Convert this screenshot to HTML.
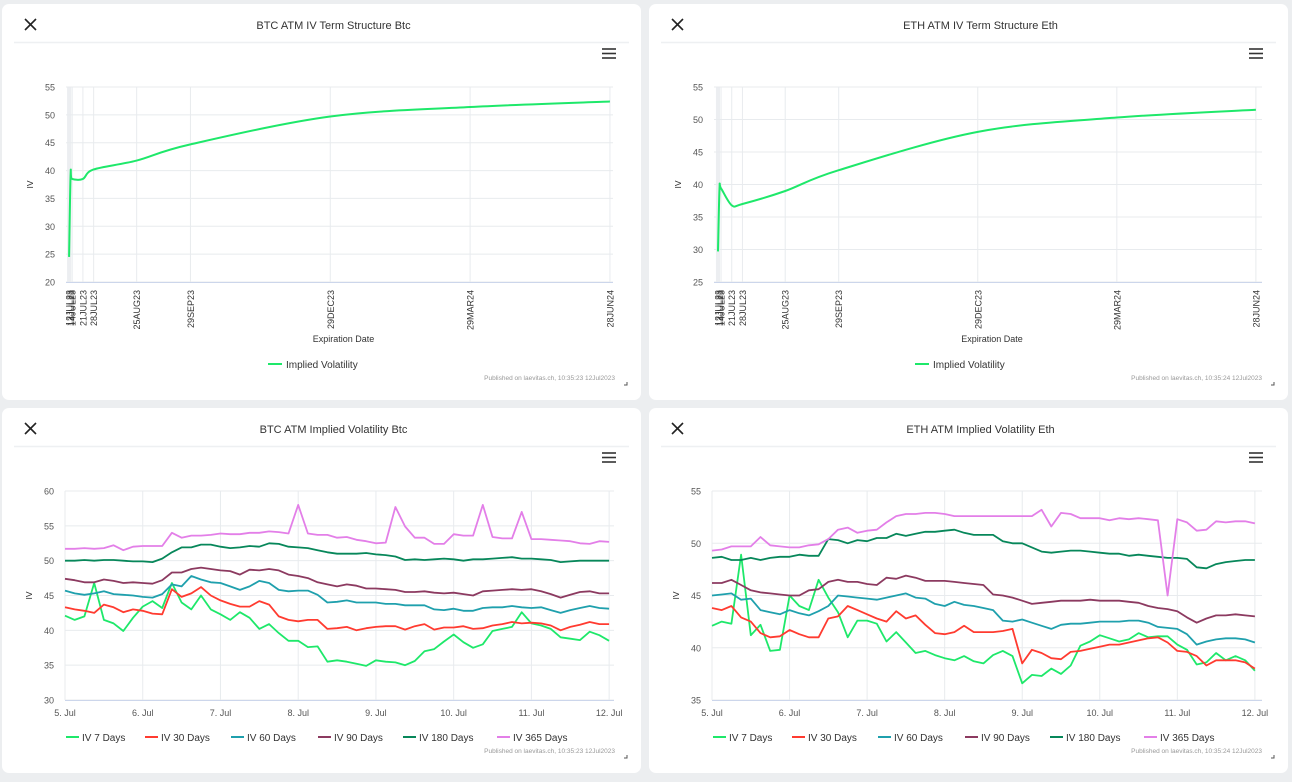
<!DOCTYPE html>
<html><head><meta charset="utf-8">
<style>
html,body{margin:0;padding:0;background:#eceef0;}
body{width:1292px;height:777px;overflow:hidden;font-family:"Liberation Sans",sans-serif;}
svg text{font-family:"Liberation Sans",sans-serif;}
</style></head>
<body>
<svg id="root" width="1292" height="777" viewBox="0 0 1292 777" xmlns="http://www.w3.org/2000/svg"></svg>
<script>
// ---- Term structure data (days from 12JUL23) ----
const termTickLabels = ["12JUL23","13JUL23","14JUL23","21JUL23","28JUL23","25AUG23","29SEP23","29DEC23","29MAR24","28JUN24"];
const termDays = [0,1,2,9,16,44,79,170,261,352];
const btcTermIV = [24.5,39.3,38.5,38.5,40.2,41.8,44.7,49.7,51.4,52.4];
const ethTermIV = [29.7,39.3,39.4,36.8,37.0,39.0,42.2,48.1,50.3,51.5];

// ---- Time series (every 3 hours from 5 Jul 00:00) ----
const dayLabels = ["5. Jul","6. Jul","7. Jul","8. Jul","9. Jul","10. Jul","11. Jul","12. Jul"];
const seriesNames = ["IV 7 Days","IV 30 Days","IV 60 Days","IV 90 Days","IV 180 Days","IV 365 Days"];
const btc7 = [42.1,41.5,42.0,46.8,41.5,41.0,39.9,41.8, 43.4,44.2,43.2,46.8,44.0,43.0,45.0,43.0, 42.3,41.5,42.6,41.8,40.2,40.9,39.6,38.5, 38.5,37.6,37.7,35.5,35.7,35.5,35.2,34.9, 35.7,35.5,35.4,35.0,35.6,37.0,37.3,38.4, 39.4,38.3,37.5,38.0,39.9,40.2,40.5,42.6, 41.0,40.7,40.2,39.0,38.8,38.6,39.8,39.3, 38.5];
const btc30 = [43.3,43.0,42.8,42.5,43.7,43.3,42.6,43.0, 42.8,42.4,42.3,45.9,44.8,45.3,46.2,45.0, 44.3,43.8,43.4,43.4,44.2,43.7,42.0,41.5, 41.3,41.5,41.5,40.2,40.3,40.5,40.0,40.3, 40.5,40.6,40.6,40.1,40.6,40.9,40.1,40.4, 40.4,40.6,40.2,40.3,40.7,40.9,41.2,41.0, 41.1,41.0,40.7,40.0,40.5,40.8,41.2,40.9, 40.9];
const btc60 = [45.7,45.3,45.1,45.3,45.6,45.2,45.1,45.0, 44.8,44.7,45.2,46.6,46.3,47.8,47.3,46.9, 46.8,46.3,45.8,46.3,47.1,46.8,45.8,45.6, 45.7,45.7,45.1,44.0,44.1,44.3,44.0,44.0, 44.0,43.8,43.8,43.6,43.6,43.6,43.0,42.9, 43.1,42.8,42.8,43.2,43.3,43.3,43.5,43.3, 43.2,43.3,42.9,42.5,42.9,43.2,43.5,43.2, 43.1];
const btc90 = [47.4,47.2,46.9,46.9,47.3,47.1,46.8,46.9, 46.8,46.7,47.2,48.3,48.3,48.8,49.0,48.8, 48.6,48.5,48.0,48.7,48.6,48.8,48.6,48.0, 47.8,47.5,46.9,46.6,46.3,46.6,46.4,46.0, 46.0,45.9,45.8,45.5,45.5,45.6,45.4,45.3, 45.4,45.2,45.0,45.6,45.7,45.8,45.9,45.8, 45.9,45.6,45.2,44.7,45.1,45.5,45.6,45.3, 45.3];
const btc180 = [50.0,50.0,50.1,50.0,50.1,50.1,50.0,49.9, 49.9,49.8,50.3,51.2,51.9,51.9,52.3,52.3, 52.0,51.8,51.9,52.1,52.0,52.5,52.4,52.0, 51.9,51.8,51.5,51.2,51.0,51.0,51.0,51.1, 50.9,50.8,50.6,50.1,50.2,50.1,50.2,50.3, 50.2,50.0,50.2,50.2,50.3,50.4,50.5,50.3, 50.3,50.2,50.1,49.8,49.9,50.0,50.0,50.0, 50.0];
const btc365 = [51.7,51.7,51.8,51.7,51.8,52.2,51.5,52.0, 52.1,52.1,52.1,54.0,53.3,53.6,53.6,53.7, 53.9,53.8,53.8,54.0,54.0,54.2,54.1,53.9, 58.0,53.9,53.7,53.7,53.3,53.4,53.0,52.8, 52.5,52.6,57.7,54.9,53.3,53.3,52.4,52.4, 53.8,53.6,53.6,58.0,53.4,53.2,53.2,57.0, 53.1,53.1,53.0,52.9,52.8,52.5,52.4,52.8, 52.7];
const eth7 = [42.1,42.5,42.3,48.9,41.2,42.2,39.7,39.8, 45.0,44.0,43.6,46.5,44.8,43.4,41.0,42.6, 42.6,42.3,40.6,41.5,40.5,39.5,39.7,39.3, 39.0,38.8,39.2,38.7,38.5,39.3,39.7,39.2, 36.6,37.4,37.3,38.0,37.5,38.3,40.2,40.6, 41.2,40.9,40.6,40.8,41.4,41.0,41.1,41.1, 40.3,39.8,38.4,38.6,39.5,38.8,39.2,38.8, 37.8];
const eth30 = [43.8,43.6,44.0,42.9,42.5,41.4,41.0,41.1, 41.7,41.3,41.0,41.0,42.8,43.0,44.0,43.6, 43.2,42.8,42.5,43.5,42.8,43.1,42.2,41.4, 41.3,41.5,42.1,41.5,41.5,41.5,41.6,41.8, 38.5,39.8,39.5,39.0,38.9,39.6,39.7,39.9, 40.1,40.3,40.3,40.5,40.7,40.9,41.0,40.5, 39.7,39.6,39.2,38.3,38.8,38.8,38.8,38.6, 38.0];
const eth60 = [45.0,45.1,45.2,44.6,44.7,43.6,43.4,43.2, 43.6,43.3,43.1,43.5,44.0,45.0,44.9,44.8, 44.7,44.6,44.8,45.0,45.2,44.8,44.7,44.2, 44.0,44.4,44.1,44.0,43.8,43.6,42.6,42.5, 42.7,42.4,42.1,41.8,42.2,42.3,42.3,42.4, 42.5,42.5,42.5,42.6,42.6,42.4,42.0,41.9, 41.8,41.3,40.3,40.6,40.8,40.9,40.9,40.8, 40.5];
const eth90 = [46.2,46.2,46.5,46.0,45.5,45.3,45.2,45.1, 45.0,45.0,45.5,45.6,46.3,46.5,46.3,46.3, 46.1,46.0,46.7,46.6,46.9,46.7,46.4,46.4, 46.4,46.3,46.2,46.1,46.0,45.1,45.0,44.8, 44.5,44.2,44.3,44.4,44.5,44.5,44.5,44.6, 44.5,44.5,44.5,44.4,44.3,44.0,43.8,43.7, 43.5,42.9,42.4,42.8,43.1,43.1,43.2,43.1, 43.0];
const eth180 = [48.6,48.7,48.4,48.4,48.6,48.4,48.6,48.7, 48.7,48.9,48.8,48.8,50.4,50.3,50.0,50.3, 50.2,50.5,50.5,50.9,50.7,50.9,51.1,51.1, 51.2,51.3,51.0,50.8,50.8,50.8,50.2,50.0, 50.0,49.6,49.2,49.1,49.2,49.3,49.3,49.2, 49.1,49.0,49.0,48.8,48.9,48.8,48.7,48.6, 48.6,48.5,47.7,47.6,48.0,48.2,48.3,48.4, 48.4];
const eth365 = [49.3,49.4,49.7,49.7,49.7,50.6,49.8,49.7, 49.6,49.6,49.8,49.9,50.4,51.3,51.5,51.0, 51.2,51.3,52.0,52.6,52.8,52.8,52.9,52.9, 52.8,52.6,52.6,52.6,52.6,52.6,52.6,52.6, 52.6,52.6,53.2,51.6,52.9,52.8,52.4,52.4, 52.4,52.2,52.4,52.3,52.4,52.3,52.2,45.0, 52.3,52.0,51.2,51.3,52.1,52.0,52.1,52.1, 51.9];

const colors = ["#1ee86a","#ff3b30","#1fa0ad","#8c3a60","#07875a","#e37fe8"];
const NS = "http://www.w3.org/2000/svg";
const root = document.getElementById('root');
function el(tag, attrs, parent, txt){
  const e = document.createElementNS(NS, tag);
  for (const k in attrs) e.setAttribute(k, attrs[k]);
  if (txt !== undefined) e.textContent = txt;
  (parent||root).appendChild(e);
  return e;
}

function card(x, y, w, h, title, name, published){
  const g = el('g', {});
  
  
  el('rect', {x:x, y:y, width:w, height:h, rx:7, fill:'#fff'}, g);
  const close = el('g', {stroke:'#222', 'stroke-width':1.6}, g);
  
  
  el('line', {x1:x+23, y1:y+15, x2:x+34, y2:y+26}, close);
  el('line', {x1:x+34, y1:y+15, x2:x+23, y2:y+26}, close);
  const t = el('text', {x:x+w/2+12, y:y+25, 'text-anchor':'middle', 'font-size':11, fill:'#333'}, g, title);
  
  
  el('line', {x1:x+12, y1:y+38.5, x2:x+w-12, y2:y+38.5, stroke:'#eef0f2', 'stroke-width':1.5}, g);
  const menu = el('g', {stroke:'#333', 'stroke-width':1.6}, g);
  
  
  for (let i=0;i<3;i++) el('line', {x1:x+w-39, y1:y+45+i*4.5, x2:x+w-25, y2:y+45+i*4.5}, menu);
  const p = el('text', {x:x+w-26, y:y+h-20, 'text-anchor':'end', 'font-size':6.5, fill:'#999'}, g, published);
  
  
  el('path', {d:`M${x+w-14} ${y+h-18} v3 h-3`, stroke:'#555', fill:'none', 'stroke-width':1}, g);
  return g;
}

function yAxis(g, P, ticks){
  const sy = v => P.y1 - (v-P.ymin)/(P.ymax-P.ymin)*(P.y1-P.y0);
  ticks.forEach(v => {
    el('line', {x1:P.x0, x2:P.x1, y1:sy(v), y2:sy(v), stroke:'#e8ebee', 'stroke-width':1}, g);
    const t = el('text', {x:P.x0-11, y:sy(v)+3.5, 'text-anchor':'end', 'font-size':9, fill:'#555'}, g, String(v));
    
    
  });
  el('line', {x1:P.x0, x2:P.x1, y1:P.y1+0.5, y2:P.y1+0.5, stroke:'#ccd6eb', 'stroke-width':1}, g);
  const yt = el('text', {transform:`translate(${P.x0-33},${(P.y0+P.y1)/2}) rotate(-90)`, 'text-anchor':'middle', 'font-size':8.5, fill:'#333'}, g, 'IV');
  
  
  return sy;
}

function catmull(pts){
  let d = `M${pts[0][0]},${pts[0][1]}`;
  for (let i=0;i<pts.length-1;i++){
    const p0=pts[Math.max(i-1,0)], p1=pts[i], p2=pts[i+1], p3=pts[Math.min(i+2,pts.length-1)];
    const c1=[p1[0]+(p2[0]-p0[0])/6, p1[1]+(p2[1]-p0[1])/6];
    const c2=[p2[0]-(p3[0]-p1[0])/6, p2[1]-(p3[1]-p1[1])/6];
    d += ` C${c1[0]},${c1[1]} ${c2[0]},${c2[1]} ${p2[0]},${p2[1]}`;
  }
  return d;
}

function termChart(cx, cy, title, published, P, values, yTicks, name){
  const g = card(cx, cy, 639, 396, title, name, published);
  const sx = d => P.x0 + (d-P.dmin)/(P.dmax-P.dmin)*(P.x1-P.x0);
  termDays.forEach((d,i) => {
    el('line', {x1:sx(d), x2:sx(d), y1:P.y0, y2:P.y1, stroke:'#e8ebee'}, g);
  });
  el('rect', {x:sx(0)-2, y:P.y0, width:4, height:P.y1-P.y0, fill:'#eceef1'}, g);
  const sy = yAxis(g, P, yTicks);
  termDays.forEach((d,i) => {
    const t = el('text', {transform:`translate(${sx(d)+3.5},${P.y1+8}) rotate(-90)`, 'text-anchor':'end', 'font-size':9, fill:'#333'}, g, termTickLabels[i]);
    
    
  });
  const xt = el('text', {x:(P.x0+P.x1)/2+4, y:P.y1+60, 'text-anchor':'middle', 'font-size':9, fill:'#333'}, g, 'Expiration Date');
  
  
  const pts = termDays.map((d,i)=>[sx(d), sy(values[i])]);
  const line = el('path', {d:catmull(pts), fill:'none', stroke:'#1ee86a', 'stroke-width':2}, g);
  
  
  const lg = el('g', {}, g);
  
  
  const lx = cx + 266, ly = cy + 360;
  el('line', {x1:lx, x2:lx+14, y1:ly, y2:ly, stroke:'#1ee86a', 'stroke-width':2}, lg);
  el('text', {x:lx+18, y:ly+4, 'font-size':10, fill:'#333'}, lg, 'Implied Volatility');
}

function tsChart(cx, cy, title, published, P, seriesArr, yTicks, name, legendX){
  const g = card(cx, cy, 639, 365, title, name, published);
  const sx = h => P.x0 + (h-P.hmin)/(P.hmax-P.hmin)*(P.x1-P.x0);
  dayLabels.forEach((lab,i) => {
    el('line', {x1:sx(i*24), x2:sx(i*24), y1:P.y0, y2:P.y1, stroke:'#e8ebee'}, g);
  });
  const sy = yAxis(g, P, yTicks);
  dayLabels.forEach((lab,i) => {
    const t = el('text', {x:sx(i*24), y:P.y1+16, 'text-anchor':'middle', 'font-size':9, fill:'#555'}, g, lab);
    
    
  });
  seriesArr.forEach((vals, s) => {
    const d = vals.map((v,i)=>(i?'L':'M')+sx(i*3).toFixed(1)+','+sy(v).toFixed(1)).join(' ');
    const path = el('path', {d:d, fill:'none', stroke:colors[s], 'stroke-width':1.8, 'stroke-linejoin':'round'}, g);
    
    
  });
  seriesNames.forEach((n, s) => {
    const lg = el('g', {}, g);
    
    
    const lx = legendX[s], ly = cy + 329;
    el('line', {x1:lx, x2:lx+13, y1:ly, y2:ly, stroke:colors[s], 'stroke-width':2}, lg);
    el('text', {x:lx+16, y:ly+4, 'font-size':10, fill:'#333'}, lg, n);
  });
}

termChart(2, 4, 'BTC ATM IV Term Structure Btc', 'Published on laevitas.ch, 10:35:23 12Jul2023',
  {x0:66, x1:613, y0:87, y1:282, ymin:20, ymax:55, dmin:-2, dmax:354}, btcTermIV, [20,25,30,35,40,45,50,55], 'btc-term-structure-chart');
termChart(649, 4, 'ETH ATM IV Term Structure Eth', 'Published on laevitas.ch, 10:35:24 12Jul2023',
  {x0:714, x1:1262, y0:87, y1:282, ymin:25, ymax:55, dmin:-2.6, dmax:356}, ethTermIV, [25,30,35,40,45,50,55], 'eth-term-structure-chart');
tsChart(2, 408, 'BTC ATM Implied Volatility Btc', 'Published on laevitas.ch, 10:35:23 12Jul2023',
  {x0:65, x1:614, y0:491, y1:700, ymin:30, ymax:60, hmin:0, hmax:169.5},
  [btc7,btc30,btc60,btc90,btc180,btc365], [30,35,40,45,50,55,60], 'btc-implied-volatility-chart', [66,145,231,318,403,497]);
tsChart(649, 408, 'ETH ATM Implied Volatility Eth', 'Published on laevitas.ch, 10:35:24 12Jul2023',
  {x0:712, x1:1262, y0:491, y1:700, ymin:35, ymax:55, hmin:0, hmax:170.2},
  [eth7,eth30,eth60,eth90,eth180,eth365], [35,40,45,50,55], 'eth-implied-volatility-chart', [713,792,878,965,1050,1144]);
</script>
</body></html>
